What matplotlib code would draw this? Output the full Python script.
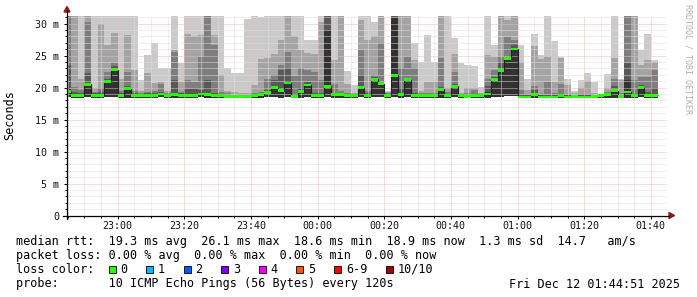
import matplotlib
matplotlib.use("Agg")
import matplotlib.pyplot as plt
from matplotlib.patches import Rectangle, Polygon
import numpy as np

W, H = 697, 297

# one sample every 120 s, first step starts 22:44 (minutes after midnight, Dec 11)
start_min = 22 * 60 + 44
step = 2

# median rtt per step (ms)
median = [19.4, 18.75, 18.7, 20.5, 18.7, 18.8, 20.9, 22.8, 18.7, 19.8,
          18.7, 18.7, 18.7, 18.7, 19.0, 18.7, 18.9, 18.7, 18.7, 18.8,
          19.0, 18.9, 18.7, 18.7, 18.6, 18.6, 18.6, 18.6, 18.7, 18.9,
          19.2, 20.0, 19.5, 20.7, 18.6, 19.4, 20.4, 18.7, 18.8, 20.2,
          18.9, 18.9, 18.7, 18.7, 20.0, 18.8, 21.3, 20.6, 18.8, 21.9,
          18.9, 21.2, 18.7, 18.7, 18.7, 18.7, 19.7, 18.7, 20.2, 18.7,
          18.6, 18.7, 18.7, 19.0, 21.2, 22.7, 24.5, 26.0, 18.5, 18.5,
          18.9, 18.5, 18.5, 18.5, 18.7, 18.5, 18.6, 18.5, 18.5, 18.6,
          18.7, 18.9, 19.5, 18.6, 19.3, 18.7, 20.0, 18.8, 18.8]

# fastest ping of each step
low = [18.5, 18.4, 18.4, 18.5, 18.4, 18.4, 18.5, 18.5, 18.4, 18.4,
       18.4, 18.4, 18.4, 18.4, 18.5, 18.4, 18.4, 18.4, 18.4, 18.4,
       18.5, 18.4, 18.4, 18.4, 18.3, 18.3, 18.3, 18.3, 18.4, 18.4,
       18.5, 18.5, 18.4, 18.5, 18.3, 18.4, 18.5, 18.4, 18.4, 18.5,
       18.4, 18.4, 18.4, 18.4, 18.5, 18.4, 18.5, 18.5, 18.4, 18.5,
       18.4, 18.5, 18.4, 18.4, 18.4, 18.4, 18.4, 18.4, 18.5, 18.4,
       18.3, 18.4, 18.4, 18.4, 18.5, 18.5, 18.6, 18.6, 18.3, 18.3,
       18.4, 18.3, 18.3, 18.3, 18.4, 18.3, 18.3, 18.3, 18.3, 18.3,
       18.4, 18.4, 18.4, 18.3, 18.4, 18.4, 18.5, 18.4, 18.4]

# sorted pings 6..10 of each step (values above the plot are clipped)
p6 = [19.8, 19.0, 18.9, 20.7, 18.9, 19.0, 21.1, 23.0, 18.9, 20.0,
      18.9, 18.8, 18.9, 18.9, 19.1, 18.8, 19.2, 18.9, 18.9, 19.0,
      19.2, 19.1, 18.9, 18.8, 18.7, 18.7, 18.7, 18.7, 18.8, 19.0,
      19.3, 20.2, 19.8, 21.0, 18.8, 19.6, 20.6, 18.9, 19.0, 29.0,
      19.0, 19.0, 18.8, 18.8, 20.3, 19.0, 21.4, 20.8, 18.9, 30.9,
      19.1, 21.3, 18.9, 18.8, 18.8, 18.8, 19.9, 18.8, 20.4, 18.8,
      18.7, 18.8, 18.8, 19.3, 21.5, 22.9, 24.7, 26.2, 18.7, 18.6,
      19.1, 18.6, 18.7, 18.7, 18.8, 18.6, 18.7, 18.6, 18.6, 18.7,
      18.8, 19.0, 19.8, 18.7, 21.2, 18.8, 20.2, 19.0, 19.0]
p7 = [23.5, 19.3, 19.2, 22.2, 19.1, 19.3, 21.3, 23.3, 19.1, 20.3,
      19.1, 19.0, 19.1, 19.1, 19.3, 19.0, 21.2, 19.1, 19.8, 19.7,
      19.6, 21.2, 19.2, 19.0, 18.9, 18.8, 18.8, 18.8, 18.9, 19.1,
      19.6, 21.2, 22.8, 23.0, 19.0, 20.0, 20.9, 19.1, 19.2, 33.0,
      19.2, 19.2, 19.0, 18.9, 21.9, 19.2, 21.6, 20.9, 19.0, 33.0,
      20.0, 21.5, 19.2, 18.9, 19.0, 19.0, 20.1, 19.0, 20.6, 18.9,
      18.9, 19.0, 18.9, 20.2, 21.7, 24.0, 24.8, 26.6, 18.9, 18.8,
      19.6, 18.8, 18.9, 18.9, 19.0, 18.8, 18.8, 18.8, 18.8, 18.8,
      18.85, 19.1, 20.2, 18.9, 23.8, 19.0, 20.4, 19.3, 19.9]
p8 = [33.0, 20.1, 19.6, 30.3, 19.3, 20.0, 22.5, 23.9, 19.5, 22.5,
      19.4, 19.2, 19.3, 19.4, 20.6, 19.2, 25.6, 19.3, 21.1, 20.8,
      24.8, 33.0, 26.6, 19.3, 19.1, 18.9, 18.9, 18.9, 19.1, 19.3,
      21.3, 22.0, 23.5, 25.6, 21.8, 23.0, 22.7, 22.5, 21.2, 33.0,
      20.6, 19.5, 19.2, 19.0, 25.9, 19.5, 21.9, 26.9, 19.1, 33.0,
      23.0, 24.8, 23.0, 19.1, 19.2, 19.2, 24.6, 19.3, 22.5, 19.0,
      19.2, 19.6, 19.0, 21.3, 22.8, 24.8, 27.9, 27.4, 19.6, 19.0,
      20.2, 19.0, 20.9, 19.1, 20.6, 19.0, 18.9, 19.0, 19.0, 18.9,
      18.9, 19.3, 21.3, 19.1, 33.0, 21.2, 21.7, 21.7, 22.7]
p9 = [33.0, 33.0, 21.4, 33.0, 19.9, 29.9, 26.6, 28.5, 21.3, 28.2,
      22.7, 19.4, 22.2, 20.7, 20.8, 19.4, 25.8, 20.9, 28.4, 28.0,
      28.2, 33.0, 28.2, 22.0, 19.5, 19.3, 19.2, 19.1, 20.4, 24.4,
      24.6, 25.3, 27.4, 33.0, 28.0, 25.9, 25.4, 25.3, 30.3, 33.0,
      24.3, 31.2, 20.6, 19.2, 30.5, 27.4, 28.0, 33.0, 19.3, 33.0,
      33.0, 33.0, 24.3, 19.4, 20.9, 20.9, 33.0, 20.0, 25.3, 19.1,
      19.9, 19.9, 19.2, 25.1, 24.8, 33.0, 30.5, 33.0, 24.0, 19.6,
      26.5, 24.5, 24.8, 20.9, 24.6, 20.4, 19.1, 20.0, 21.0, 19.2,
      18.95, 19.9, 24.6, 21.2, 33.0, 33.0, 23.5, 24.3, 24.0]
p10 = [33.0, 33.0, 31.1, 33.0, 33.0, 33.0, 33.0, 33.0, 33.0, 33.0,
       33.0, 21.2, 25.1, 26.9, 23.0, 23.0, 33.0, 23.8, 33.0, 33.0,
       33.0, 33.0, 33.0, 33.0, 23.0, 22.3, 22.3, 30.7, 33.0, 31.0,
       33.0, 33.0, 33.0, 33.0, 33.0, 33.0, 27.5, 27.5, 33.0, 33.0,
       33.0, 33.0, 22.6, 20.4, 33.0, 33.0, 30.2, 33.0, 19.5, 33.0,
       33.0, 33.0, 27.0, 24.0, 28.2, 24.0, 33.0, 33.0, 27.8, 23.8,
       23.5, 23.3, 20.1, 33.0, 26.6, 33.0, 33.0, 33.0, 26.6, 21.3,
       28.4, 25.1, 31.1, 27.2, 24.8, 21.3, 19.4, 21.2, 22.3, 20.9,
       19.0, 22.1, 33.0, 21.4, 33.0, 33.0, 25.8, 28.4, 24.3]

x_ticks = [23 * 60, 23 * 60 + 20, 23 * 60 + 40, 24 * 60, 24 * 60 + 20,
           24 * 60 + 40, 25 * 60, 25 * 60 + 20, 25 * 60 + 40]
x_labels = ["23:00", "23:20", "23:40", "00:00", "00:20", "00:40", "01:00", "01:20", "01:40"]
y_ticks = [0, 5, 10, 15, 20, 25, 30]
y_labels = ["0", "5 m", "10 m", "15 m", "20 m", "25 m", "30 m"]

loss_labels = ["0", "1", "2", "3", "4", "5", "6-9", "10/10"]
loss_colors = ["#26ff00", "#00b8ff", "#0059ff", "#7e00ff", "#ff00ff", "#ff5500", "#ff0000", "#a10000"]

smoke_colors = ["#cacaca", "#a4a4a4", "#7e7e7e", "#585858", "#323232"]

mono = "DejaVu Sans Mono"

fig = plt.figure(figsize=(W / 100, H / 100), dpi=100)
fig.patch.set_facecolor("white")
ax = fig.add_axes([67 / W, (H - 215.5) / H, 600 / W, 200 / H])

edges = start_min + step * np.arange(len(median) + 1)
lo = np.array(low)
for vals, col in zip([p10, p9, p8, p7, p6], smoke_colors):
    ax.stairs(vals, edges, baseline=lo, fill=True, color=col, lw=0, zorder=1)

med = np.array(median)
ax.stairs(med, edges, baseline=None, color="#202020", lw=0.8, zorder=3)
ax.stairs(med + 0.21, edges, baseline=med - 0.21, fill=True, color=loss_colors[0], lw=0, zorder=4)

ax.set_xticks(x_ticks)
ax.set_xticklabels(x_labels)
ax.set_xticks([m for m in range(23 * 60 - 15, 25 * 60 + 45, 5) if m % 20 != 0], minor=True)
ax.set_yticks(y_ticks)
ax.set_yticklabels(y_labels)
ax.set_yticks([v for v in range(1, 32) if v % 5 != 0], minor=True)

# limits last, set_xticks would widen them
ax.set_xlim(start_min + 51 / 60, start_min + 51 / 60 + 180)
ax.set_ylim(0, 31.25)

ax.set_axisbelow(False)
ax.grid(which="minor", color="#dedede", linestyle=(0, (1, 1)), lw=0.72)
ax.grid(which="major", color="#f4b8b8", linestyle=(0, (1, 1)), lw=0.72)

ax.tick_params(which="both", direction="out", color="#000000", width=0.7,
               labelsize=7.2, labelfontfamily=mono, labelcolor="#111111")
ax.tick_params(which="major", length=2.5, pad=3)
ax.tick_params(axis="x", which="major", pad=1.5)
ax.tick_params(which="minor", length=1.5)
for s in ax.spines.values():
    s.set_visible(False)

# pixel overlay for axis arrows and legend
ov = fig.add_axes([0, 0, 1, 1])
ov.set_xlim(0, W)
ov.set_ylim(H, 0)
ov.axis("off")

ov.plot([67, 67], [219, 11], color="black", lw=0.9)
ov.plot([63, 669], [215.5, 215.5], color="black", lw=0.9)
ov.add_patch(Polygon([[64, 12], [70, 12], [67, 6.5]], closed=True, color="#8b1a1a"))
ov.add_patch(Polygon([[669, 212.5], [669, 218.5], [674.5, 215.5]], closed=True, color="#8b1a1a"))

ov.text(10, 115, "Seconds", rotation=90, ha="center", va="center", fontsize=8.5, family=mono)
ov.text(688, 59, "RRDTOOL / TOBI OETIKER", rotation=270, ha="center", va="center",
        fontsize=6, family=mono, color="#b0b0b0")

fs = 8.5
cw = 7.1
ov.text(16, 241, "median rtt:  19.3 ms avg  26.1 ms max  18.6 ms min  18.9 ms now  1.3 ms sd  14.7   am/s",
        ha="left", va="center", fontsize=fs, family=mono)
ov.text(16, 255.5, "packet loss: 0.00 % avg  0.00 % max  0.00 % min  0.00 % now",
        ha="left", va="center", fontsize=fs, family=mono)
ov.text(16, 269.5, "loss color:", ha="left", va="center", fontsize=fs, family=mono)
bx = 108.5
for lab, col in zip(loss_labels, loss_colors):
    ov.add_patch(Rectangle((bx, 265.5), 7, 7, facecolor=col, edgecolor="black", lw=0.6))
    ov.text(bx + 12, 269.5, lab, ha="left", va="center", fontsize=fs, family=mono)
    bx = bx + 12 + (len(lab) + 2.6) * cw
ov.text(16, 284, "probe:       10 ICMP Echo Pings (56 Bytes) every 120s",
        ha="left", va="center", fontsize=fs, family=mono)
ov.text(680, 284, "Fri Dec 12 01:44:51 2025", ha="right", va="center", fontsize=fs, family=mono)

fig.savefig("out.png", dpi=100)
